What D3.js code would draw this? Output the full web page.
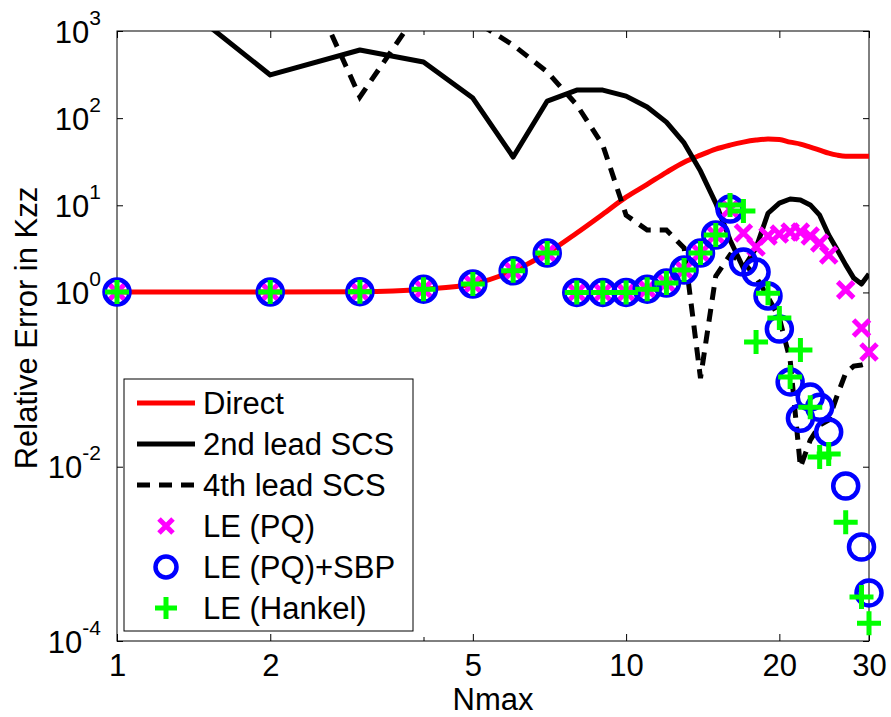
<!DOCTYPE html>
<html>
<head>
<meta charset="utf-8">
<script src="https://cdn.jsdelivr.net/npm/d3@7"></script>
<style>
  html, body { margin: 0; padding: 0; background: #fff; }
  svg { display: block; font-family: "Liberation Sans", Arial, Helvetica, sans-serif; }
</style>
</head>
<body>
<div id="chart"></div>
<script>
// Relative error in Kzz vs Nmax (log-log)

// line series, one value per Nmax
const nLine = [1, 2, 3, 4, 5, 6, 7, 8, 9, 10, 11, 12, 13, 14, 15, 16, 17, 18, 19, 20, 21, 22, 23, 24, 25, 26, 27, 28, 29, 30];
const directErr = [1.01, 1.01, 1.02, 1.09, 1.25, 1.77, 2.83, 4.81, 7.9, 12.4, 17.4, 23.9, 31.2, 37.6, 44.1,
    49.0, 53.1, 56.0, 57.5, 56.8, 53.1, 50.4, 46.5, 43.0, 39.7, 37.6, 36.6, 36.6, 36.6, 36.6];
const scs2Err = [7850, 313, 605, 441, 170, 35.8, 157, 210, 210, 179, 134, 90, 51.9, 24.7, 10.6,
    4.0, 1.9, 3.24, 8.1, 10.6, 11.8, 11.5, 10.1, 7.7, 4.56, 3.07, 2.07, 1.46, 1.25, 1.63];
const scs4Err = [100000, 32700, 175, 2040, 1340, 690, 339, 142, 49, 7.7, 5.2, 5.2, 3.24, 0.104, 1.54,
    2.69, 2.23, 1.50, 0.885, 0.508, 0.168, 0.0099, 0.0202, 0.030, 0.0344, 0.0665, 0.119, 0.143, 0.147, 0.155];

// marker series (Laplace expansion variants)
const nMark = [1, 2, 3, 4, 5, 6, 7, 8, 9, 10, 11, 12, 13, 14, 15, 16, 17, 18, 19, 20, 21, 22, 23, 24, 25, 27, 29, 30];
const pqErr = [1.01, 1.01, 1.02, 1.09, 1.25, 1.77, 2.83, 1.0, 1.0, 1.0, 1.09, 1.28, 1.81, 2.83, 4.56, 9.06,
    4.81, 3.32, 4.44, 4.68, 4.93, 4.93, 4.44, 3.69, 2.69, 1.07, 0.39, 0.207];
const sbpErr = [1.01, 1.01, 1.02, 1.09, 1.25, 1.77, 2.83, 1.0, 1.0, 1.0, 1.09, 1.28, 1.81, 2.83, 4.56, 9.06,
    2.23, 1.71, 0.91, 0.38, 0.094, 0.036, 0.063, 0.048, 0.025, 0.006, 0.0012, 0.000356];
const hankelErr = [1.01, 1.01, 1.02, 1.09, 1.25, 1.77, 2.83, 1.0, 1.0, 1.0, 1.09, 1.28, 1.81, 2.83, 4.56, 10.1,
    8.6, 0.27, 0.98, 0.51, 0.107, 0.218, 0.048, 0.0129, 0.014, 0.0023, 0.00032, 0.00016];

const xTicks = [1, 2, 5, 10, 20, 30];
const xMinorTicks = [4];
const yTicks = [1e-4, 1e-2, 1, 10, 100, 1000];

const legendItems = [
    { label: "Direct", kind: "line", color: "#ff0000", dash: null },
    { label: "2nd lead SCS", kind: "line", color: "#000000", dash: null },
    { label: "4th lead SCS", kind: "line", color: "#000000", dash: "13,9" },
    { label: "LE (PQ)", kind: "x", color: "#ff00ff" },
    { label: "LE (PQ)+SBP", kind: "o", color: "#0000ff" },
    { label: "LE (Hankel)", kind: "+", color: "#00ff00" }
];

const W = 891, H = 717;
const FS = 31;
const margin = { left: 117, top: 31, right: 891 - 869, bottom: 717 - 641 };
const pw = W - margin.left - margin.right;
const ph = H - margin.top - margin.bottom;

const svg = d3.select("#chart").append("svg")
    .attr("width", W)
    .attr("height", H);

const x = d3.scaleLog().domain([1, 30]).range([margin.left, margin.left + pw]);
const y = d3.scaleLog().domain([1e-4, 1e3]).range([margin.top + ph, margin.top]);

svg.append("defs").append("clipPath").attr("id", "plotClip")
    .append("rect")
    .attr("x", margin.left).attr("y", margin.top)
    .attr("width", pw).attr("height", ph);

// axes box + ticks
const axisG = svg.append("g").attr("class", "axes");

function styleAxis(g) {
    g.selectAll(".domain").remove();
    g.selectAll(".tick line").attr("stroke", "#000").attr("stroke-width", 1);
    g.selectAll(".tick text").attr("fill", "#000").attr("font-size", FS)
        .attr("font-family", "'Liberation Sans', Arial, sans-serif");
}

axisG.append("g")
    .attr("transform", `translate(0,${margin.top + ph})`)
    .call(d3.axisBottom(x).tickValues(xTicks).tickFormat(d3.format("d")).tickSizeInner(-7).tickSizeOuter(0).tickPadding(13))
    .call(styleAxis);
axisG.append("g")
    .attr("transform", `translate(0,${margin.top + ph})`)
    .call(d3.axisBottom(x).tickValues(xMinorTicks).tickFormat("").tickSizeInner(-4).tickSizeOuter(0))
    .call(styleAxis);
axisG.append("g")
    .attr("transform", `translate(0,${margin.top})`)
    .call(d3.axisTop(x).tickValues(xTicks).tickFormat("").tickSizeInner(-7).tickSizeOuter(0))
    .call(styleAxis);
axisG.append("g")
    .attr("transform", `translate(0,${margin.top})`)
    .call(d3.axisTop(x).tickValues(xMinorTicks).tickFormat("").tickSizeInner(-4).tickSizeOuter(0))
    .call(styleAxis);

const yLeft = axisG.append("g")
    .attr("transform", `translate(${margin.left},0)`)
    .call(d3.axisLeft(y).tickValues(yTicks).tickFormat("").tickSizeInner(-6).tickSizeOuter(0))
    .call(styleAxis);
axisG.append("g")
    .attr("transform", `translate(${margin.left + pw},0)`)
    .call(d3.axisRight(y).tickValues(yTicks).tickFormat("").tickSizeInner(-6).tickSizeOuter(0))
    .call(styleAxis);

// y tick labels as 10^k
yLeft.selectAll(".tick").each(function(d) {
    const t = d3.select(this).select("text").text(null)
        .attr("x", -16).attr("dy", 11).attr("text-anchor", "end");
    t.append("tspan").text("10");
    t.append("tspan").attr("dy", -18).attr("font-size", 21).text(Math.round(Math.log10(d)));
});

axisG.append("rect")
    .attr("x", margin.left).attr("y", margin.top)
    .attr("width", pw).attr("height", ph)
    .attr("fill", "none").attr("stroke", "#000").attr("stroke-width", 1);

// axis titles
svg.append("text")
    .attr("x", margin.left + pw / 2).attr("y", 710)
    .attr("text-anchor", "middle").attr("font-size", FS)
    .text("Nmax");
svg.append("text")
    .attr("transform", `translate(37,${margin.top + ph / 2 - 8}) rotate(-90)`)
    .attr("text-anchor", "middle").attr("font-size", FS)
    .text("Relative Error in Kzz");

// lines
const plot = svg.append("g").attr("clip-path", "url(#plotClip)");

const lineLinear = d3.line().x(d => x(d[0])).y(d => y(d[1]));
const lineSmooth = d3.line().x(d => x(d[0])).y(d => y(d[1])).curve(d3.curveMonotoneX);

plot.append("path")
    .datum(d3.zip(nLine, directErr))
    .attr("d", lineSmooth)
    .attr("fill", "none").attr("stroke", "#ff0000").attr("stroke-width", 5);

plot.append("path")
    .datum(d3.zip(nLine, scs2Err))
    .attr("d", lineLinear)
    .attr("fill", "none").attr("stroke", "#000").attr("stroke-width", 5)
    .attr("stroke-linejoin", "round");

plot.append("path")
    .datum(d3.zip(nLine, scs4Err))
    .attr("d", lineLinear)
    .attr("fill", "none").attr("stroke", "#000").attr("stroke-width", 5)
    .attr("stroke-dasharray", "13,9");

// markers
const markG = svg.append("g");

function drawX(g, cx, cy, s, color) {
    g.append("path")
        .attr("d", `M${cx - s},${cy - s}L${cx + s},${cy + s}M${cx - s},${cy + s}L${cx + s},${cy - s}`)
        .attr("stroke", color).attr("stroke-width", 5).attr("fill", "none");
}
function drawO(g, cx, cy, r, color) {
    g.append("circle")
        .attr("cx", cx).attr("cy", cy).attr("r", r)
        .attr("stroke", color).attr("stroke-width", 4.5).attr("fill", "none");
}
function drawPlus(g, cx, cy, s, color) {
    g.append("path")
        .attr("d", `M${cx - s},${cy}L${cx + s},${cy}M${cx},${cy - s}L${cx},${cy + s}`)
        .attr("stroke", color).attr("stroke-width", 5).attr("fill", "none");
}

nMark.forEach((n, i) => drawX(markG, x(n), y(pqErr[i]), 8, "#ff00ff"));
nMark.forEach((n, i) => drawO(markG, x(n), y(sbpErr[i]), 12.5, "#0000ff"));
nMark.forEach((n, i) => drawPlus(markG, x(n), y(hankelErr[i]), 12, "#00ff00"));

// legend
const lg = svg.append("g");
lg.append("rect")
    .attr("x", 124).attr("y", 379).attr("width", 289).attr("height", 252)
    .attr("fill", "#fff").attr("stroke", "#000").attr("stroke-width", 1);

legendItems.forEach((item, i) => {
    const cy = 403 + i * 41;
    if (item.kind === "line") {
        lg.append("line")
            .attr("x1", 137).attr("x2", 195).attr("y1", cy).attr("y2", cy)
            .attr("stroke", item.color).attr("stroke-width", 5)
            .attr("stroke-dasharray", item.dash);
    } else if (item.kind === "x") {
        drawX(lg, 166, cy, 7, item.color);
    } else if (item.kind === "o") {
        drawO(lg, 166, cy, 10.5, item.color);
    } else {
        drawPlus(lg, 166, cy, 11, item.color);
    }
    lg.append("text")
        .attr("x", 203).attr("y", cy + 11)
        .attr("font-size", FS)
        .text(item.label);
});
</script>
</body>
</html>
